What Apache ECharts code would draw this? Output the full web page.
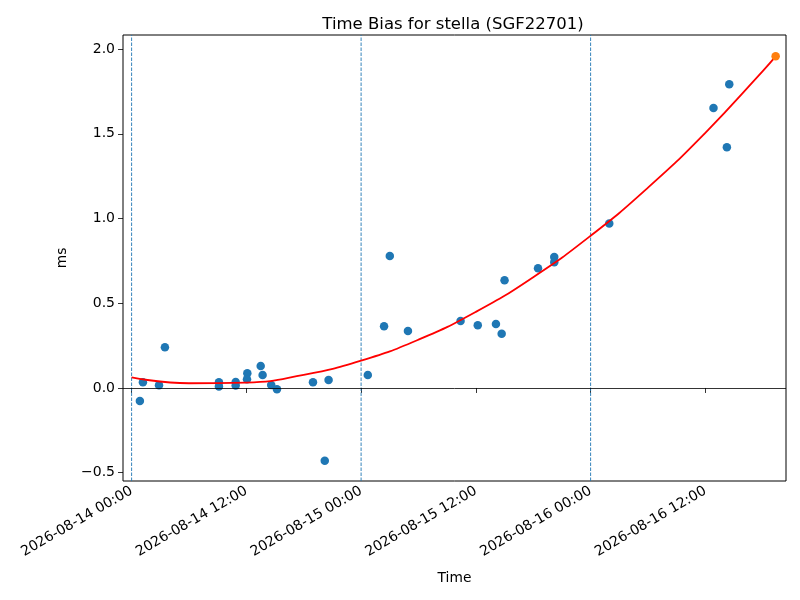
<!DOCTYPE html>
<html>
<head>
<meta charset="utf-8">
<script src="https://cdn.jsdelivr.net/npm/echarts@6/dist/echarts.min.js"></script>
<style>
html, body { margin: 0; padding: 0; background: #fff; }
#chart { width: 800px; height: 600px; }
</style>
</head>
<body>
<div id="chart"></div>
<script>
// measured time bias points
var bias_times = [
	'2026-08-14 00:52', '2026-08-14 01:11', '2026-08-14 02:52', '2026-08-14 03:29',
	'2026-08-14 09:08', '2026-08-14 09:08', '2026-08-14 10:53', '2026-08-14 10:53',
	'2026-08-14 12:06', '2026-08-14 12:04', '2026-08-14 13:30', '2026-08-14 13:42',
	'2026-08-14 14:36', '2026-08-14 15:12', '2026-08-14 18:58', '2026-08-14 20:36',
	'2026-08-14 20:12', '2026-08-15 00:42', '2026-08-15 02:24', '2026-08-15 03:00',
	'2026-08-15 04:54', '2026-08-15 10:24', '2026-08-15 12:12', '2026-08-15 14:06',
	'2026-08-15 14:42', '2026-08-15 15:00', '2026-08-15 18:30', '2026-08-15 20:12',
	'2026-08-15 20:12', '2026-08-16 01:57', '2026-08-16 12:51', '2026-08-16 14:30',
	'2026-08-16 14:15'
];
var bias_ms = [
	-0.077, 0.034, 0.016, 0.240,
	0.034, 0.008, 0.035, 0.014,
	0.087, 0.051, 0.130, 0.077,
	0.018, -0.008, 0.034, 0.047,
	-0.430, 0.077, 0.364, 0.779,
	0.336, 0.395, 0.370, 0.377,
	0.320, 0.635, 0.706, 0.773,
	0.742, 0.970, 1.652, 1.792,
	1.420
];
// predicted point (orange)
var pred_time = '2026-08-16 19:21';
var pred_ms = 1.957;
// red fit curve
var fit_times = [
	'2026-08-14 00:00', '2026-08-14 06:00', '2026-08-14 12:00', '2026-08-14 18:00',
	'2026-08-15 00:00', '2026-08-15 06:00', '2026-08-15 12:00', '2026-08-15 18:00',
	'2026-08-16 00:00', '2026-08-16 06:00', '2026-08-16 12:00', '2026-08-16 18:00',
	'2026-08-16 19:21'
];
var fit_ms = [
	0.063, 0.028, 0.032, 0.077,
	0.161, 0.285, 0.449, 0.654,
	0.898, 1.182, 1.506, 1.870,
	1.957
];
var day_lines = ['2026-08-14 00:00', '2026-08-15 00:00', '2026-08-16 00:00'];
var x_ticks = ['2026-08-14 00:00', '2026-08-14 12:00', '2026-08-15 00:00',
	'2026-08-15 12:00', '2026-08-16 00:00', '2026-08-16 12:00'];
var y_ticks = [-0.5, 0, 0.5, 1, 1.5, 2];
var x_range = ['2026-08-13 23:06', '2026-08-16 20:26'];
var y_range = [-0.549, 2.083];

function to_ms(s) {
	let [d, t] = s.split(' ');
	let [yy, mm, dd] = d.split('-').map(Number);
	let [hh, mi] = t.split(':').map(Number);
	return Date.UTC(yy, mm - 1, dd, hh, mi);
}
function pad(n) { return (n < 10 ? '0' : '') + n; }
function fmt_time(v) {
	let d = new Date(v);
	return d.getUTCFullYear() + '-' + pad(d.getUTCMonth() + 1) + '-' + pad(d.getUTCDate())
		+ ' ' + pad(d.getUTCHours()) + ':' + pad(d.getUTCMinutes());
}

var font = 'DejaVu Sans';
var bias_data = bias_times.map((e, i) => [to_ms(e), bias_ms[i]]);
var fit_data = fit_times.map((e, i) => [to_ms(e), fit_ms[i]]);

// one dashed vertical series per day boundary
var day_series = day_lines.map(e => ({
	type: 'line',
	data: [[to_ms(e), y_range[0]], [to_ms(e), y_range[1]]],
	showSymbol: false,
	silent: true,
	lineStyle: { color: '#1f77b4', width: 0.9, type: [3.5, 1.5] },
	z: 1
}));

var option = {
	animation: false,
	backgroundColor: '#fff',
	title: {
		text: 'Time Bias for stella (SGF22701)',
		left: 448, top: 11, textAlign: 'center',
		textStyle: { fontFamily: font, fontSize: 16.5, fontWeight: 'normal', color: '#000' }
	},
	grid: {
		left: 123, right: 14, top: 35, bottom: 119,
		show: true, borderColor: '#000', borderWidth: 1, backgroundColor: 'transparent'
	},
	xAxis: {
		type: 'value',
		min: to_ms(x_range[0]),
		max: to_ms(x_range[1]),
		name: 'Time',
		nameLocation: 'middle',
		nameGap: 90,
		nameTextStyle: { fontFamily: font, fontSize: 13.8, color: '#000' },
		axisLine: { show: false },
		splitLine: { show: false },
		axisTick: {
			show: true, length: 5, inside: false,
			customValues: x_ticks.map(to_ms),
			lineStyle: { color: '#000', width: 0.8 }
		},
		axisLabel: {
			customValues: x_ticks.map(to_ms),
			rotate: 30, margin: 9,
			fontFamily: font, fontSize: 14, color: '#000',
			formatter: fmt_time
		}
	},
	yAxis: {
		type: 'value',
		min: y_range[0],
		max: y_range[1],
		name: 'ms',
		nameLocation: 'middle',
		nameGap: 54,
		nameTextStyle: { fontFamily: font, fontSize: 13.8, color: '#000' },
		axisLine: { show: false },
		splitLine: { show: false },
		axisTick: {
			show: true, length: 5, inside: false,
			customValues: y_ticks,
			lineStyle: { color: '#000', width: 0.8 }
		},
		axisLabel: {
			customValues: y_ticks,
			margin: 8,
			fontFamily: font, fontSize: 14, color: '#000',
			formatter: v => (v < 0 ? '\u2212' : '') + Math.abs(v).toFixed(1)
		}
	},
	series: day_series.concat([
		{
			type: 'line',
			data: [],
			z: 1,
			markLine: {
				silent: true,
				symbol: 'none',
				label: { show: false },
				lineStyle: { color: '#000', width: 0.8, type: 'solid', opacity: 1 },
				data: [{ yAxis: 0 }]
			}
		},
		{
			type: 'scatter',
			data: bias_data,
			symbolSize: 8.5,
			itemStyle: { color: '#1f77b4', opacity: 1 },
			z: 3
		},
		{
			type: 'line',
			data: fit_data,
			smooth: true,
			showSymbol: false,
			lineStyle: { color: '#ff0000', width: 1.8 },
			z: 4
		},
		{
			type: 'scatter',
			data: [[to_ms(pred_time), pred_ms]],
			symbolSize: 8.5,
			itemStyle: { color: '#ff7f0e', opacity: 1 },
			z: 5
		}
	])
};

let chart = echarts.init(document.getElementById('chart'));
chart.setOption(option);
</script>
</body>
</html>
